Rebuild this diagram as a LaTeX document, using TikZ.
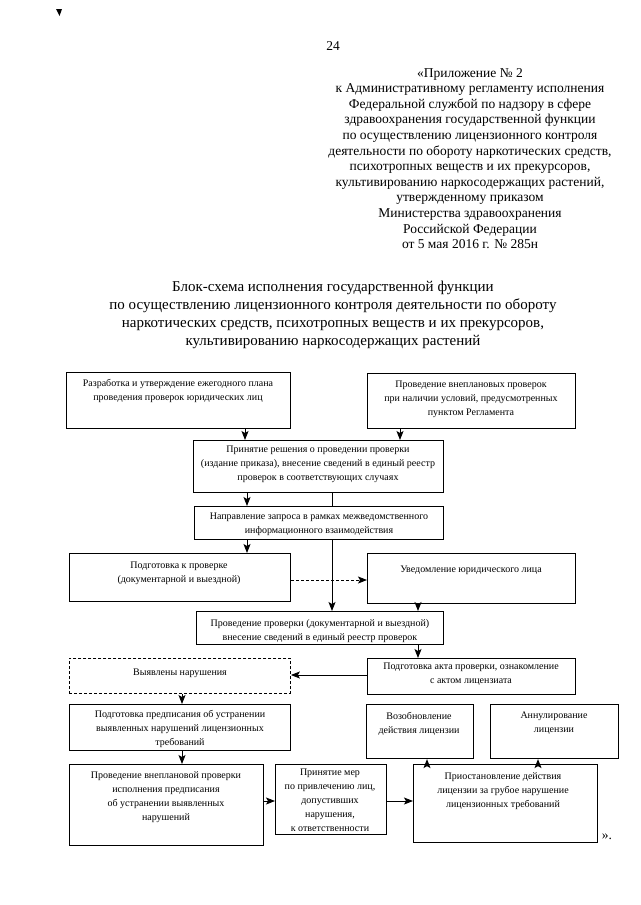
\documentclass[tikz,border=0pt]{standalone}
\usepackage{fontspec}
\setmainfont{Liberation Serif}
\usetikzlibrary{arrows.meta}
\newcommand\mkbox[6][box]{\node[#1, minimum width=#4-#2, minimum height=#5-#3] (#6) at (#2,#3) {};}
\begin{document}
\begin{tikzpicture}[x=1pt,y=-1pt,
 box/.style={draw, line width=1.1pt, inner sep=0pt, anchor=north west},
 dbox/.style={box, line width=0.9pt, dash pattern=on 3pt off 2pt},
 txt/.style={font=\fontsize{10}{14}\selectfont, align=center, inner sep=0pt, anchor=north},
 arr/.style={line width=0.9pt, -{Stealth[length=9pt,width=7pt,inset=2pt]}},
 ln/.style={line width=0.9pt},
 darr/.style={arr, dash pattern=on 3pt off 2pt}]
\useasboundingbox (0,0) rectangle (640,905);
\fill (56,9) -- (62,9) -- (59.5,16) -- cycle;
\node[font=\fontsize{13.5}{15.6}\selectfont, inner sep=0pt] (pg) at (333,46) {24};
\node[font=\fontsize{13.5}{15.6}\selectfont, align=center, inner sep=0pt, anchor=north] (hdr) at (470,68)
 {«Приложение № 2\\к Административному регламенту исполнения\\Федеральной службой по надзору в сфере\\здравоохранения государственной функции\\по осуществлению лицензионного контроля\\деятельности по обороту наркотических средств,\\психотропных веществ и их прекурсоров,\\культивированию наркосодержащих растений,\\утвержденному приказом\\Министерства здравоохранения\\Российской Федерации\\от 5 мая 2016 г. № 285н};
\node[font=\fontsize{15}{18}\selectfont, align=center, inner sep=0pt, anchor=north] (ttl) at (333,281)
 {Блок-схема исполнения государственной функции\\по осуществлению лицензионного контроля деятельности по обороту\\наркотических средств, психотропных веществ и их прекурсоров,\\культивированию наркосодержащих растений};
% boxes
\mkbox{66}{372}{290}{428}{A}
\mkbox{367}{373}{575}{428}{B}
\mkbox{193}{440}{443}{492}{C}
\mkbox{194}{506}{443}{539}{D}
\mkbox{69}{553}{290}{601}{F}
\mkbox{367}{553}{575}{603}{G}
\mkbox{196}{611}{443}{644}{E}
\mkbox{367}{658}{575}{694}{H}
\mkbox[dbox]{69}{658}{290}{693}{I}
\mkbox{69}{704}{290}{750}{J}
\mkbox{69}{764}{263}{845}{K}
\mkbox{275}{764}{386}{834}{L}
\mkbox{413}{764}{597}{842}{M}
\mkbox{366}{704}{473}{758}{N}
\mkbox{490}{704}{618}{758}{O}
% texts
\node[txt] (At) at (178,379) {Разработка и утверждение ежегодного плана\\проведения проверок юридических лиц};
\node[txt] (Bt) at (471,381) {Проведение внеплановых проверок\\при наличии условий, предусмотренных\\пунктом Регламента};
\node[txt] (Ct) at (318,446) {Принятие решения о проведении проверки\\(издание приказа), внесение сведений в единый реестр\\проверок в соответствующих случаях};
\node[txt] (Dt) at (319,513) {Направление запроса в рамках межведомственного\\информационного взаимодействия};
\node[txt] (Ft) at (179,562) {Подготовка к проверке\\(документарной и выездной)};
\node[txt] (Gt) at (471,566) {Уведомление юридического лица};
\node[txt] (Et) at (320,619) {Проведение проверки (документарной и выездной)\\внесение сведений в единый реестр проверок};
\node[txt] (Ht) at (471,663) {Подготовка акта проверки, ознакомление\\с актом лицензиата};
\node[txt] (It) at (180,669) {Выявлены нарушения};
\node[txt] (Jt) at (180,710) {Подготовка предписания об устранении\\выявленных нарушений лицензионных\\требований};
\node[txt] (Kt) at (166,771) {Проведение внеплановой проверки\\исполнения предписания\\об устранении выявленных\\нарушений};
\node[txt] (Lt) at (330,769) {Принятие мер\\по привлечению лиц,\\допустивших\\нарушения,\\к ответственности};
\node[txt] (Mt) at (503,772) {Приостановление действия\\лицензии за грубое нарушение\\лицензионных требований};
\node[txt] (Nt) at (419,712) {Возобновление\\действия лицензии};
\node[txt] (Ot) at (554,712) {Аннулирование\\лицензии};
\node[font=\fontsize{13.5}{15.6}\selectfont, inner sep=0pt] (endq) at (607,837) {».};
% connectors
\draw[arr] (245,0 |- A.south) -- (245,0 |- C.north);
\draw[arr] (400,0 |- B.south) -- (400,0 |- C.north);
\draw[arr] (247,0 |- C.south) -- (247,0 |- D.north);
\draw[ln] (332,0 |- C.south) -- (332,0 |- D.north);
\draw[arr] (247,0 |- D.south) -- (247,0 |- F.north);
\draw[arr] (332,0 |- D.south) -- (332,0 |- E.north);
\draw[darr] (F.east |- 0,580) -- (G.west |- 0,580);
\draw[arr] (418,0 |- G.south) -- (418,0 |- E.north);
\draw[arr] (418,0 |- E.south) -- (418,0 |- H.north);
\draw[arr] (H.west |- 0,675) -- (I.east |- 0,675);
\draw[arr] (182,0 |- I.south) -- (182,0 |- J.north);
\draw[arr] (182,0 |- J.south) -- (182,0 |- K.north);
\draw[arr] (K.east |- 0,801) -- (L.west |- 0,801);
\draw[arr] (L.east |- 0,801) -- (M.west |- 0,801);
\draw[arr] (427,0 |- M.north) -- (427,0 |- N.south);
\draw[arr] (538,0 |- M.north) -- (538,0 |- O.south);
\end{tikzpicture}
\end{document}
